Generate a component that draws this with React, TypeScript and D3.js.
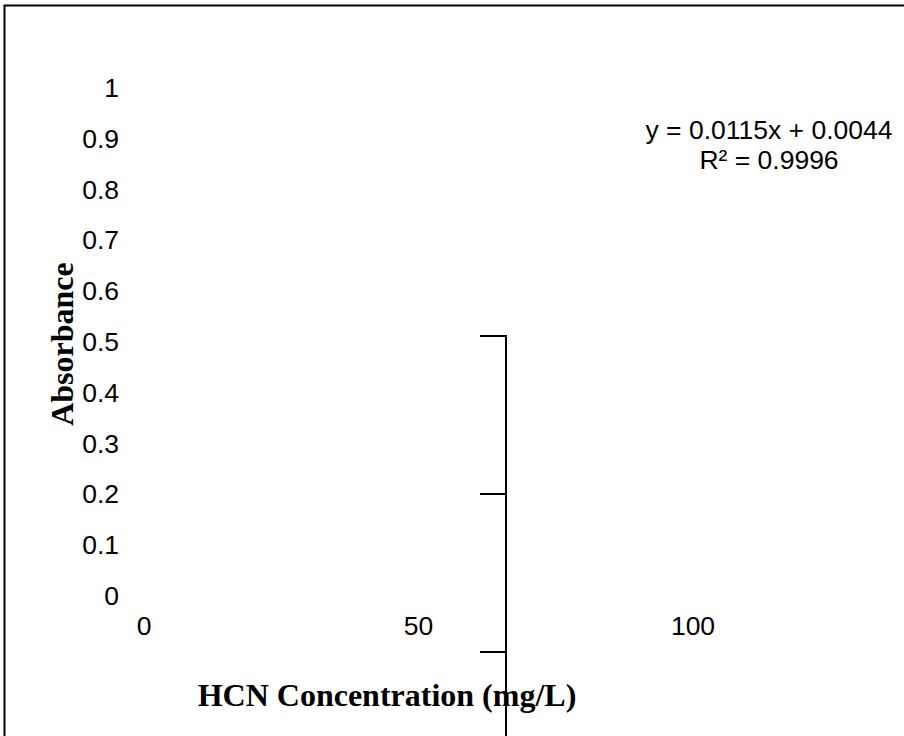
import React from "react";
import * as d3 from "d3";

const yTicks = [0, 0.1, 0.2, 0.3, 0.4, 0.5, 0.6, 0.7, 0.8, 0.9, 1];
const xTicks = [0, 50, 100];
const ghostTicks = [0, 1, 2];
const equationLines = ["y = 0.0115x + 0.0044", "R² = 0.9996"];
const xTitle = "HCN Concentration (mg/L)";
const yTitle = "Absorbance";

const W = 904;
const H = 736;

export default function App() {
  const x = d3.scaleLinear().domain([0, 100]).range([144, 693]);
  const y = d3.scaleLinear().domain([0, 1]).range([596, 88]);
  const ghost = d3.scaleLinear().domain([0, 1]).range([336, 494]);
  const sans = "'Liberation Sans', Arial, sans-serif";
  const serif = "'Liberation Serif', 'Times New Roman', serif";
  const fs = 26.5;
  return (
    <svg
      width={W}
      height={H}
      style={{ position: "absolute", left: 0, top: 0, background: "#fff" }}
    >
      <rect x={4.5} y={5.5} width={W + 20} height={H + 20} fill="#fff" stroke="#000" strokeWidth={2} />
      {yTicks.map((v) => (
        <text key={v} x={119} y={y(v)} textAnchor="end" dominantBaseline="central" fontFamily={sans} fontSize={fs} fill="#000">
          {d3.format("~g")(v)}
        </text>
      ))}
      {xTicks.map((v) => (
        <text key={v} x={x(v)} y={626} textAnchor="middle" dominantBaseline="central" fontFamily={sans} fontSize={fs} fill="#000">
          {v}
        </text>
      ))}
      <path
        d={`M${506},${ghost(0)}V${H + 10}`}
        stroke="#000"
        strokeWidth={2}
        fill="none"
      />
      {ghostTicks.map((t) => (
        <line key={t} x1={480} x2={507} y1={ghost(t)} y2={ghost(t)} stroke="#000" strokeWidth={2} />
      ))}
      {equationLines.map((s, i) => (
        <text key={s} x={769} y={130 + i * 29.5} textAnchor="middle" dominantBaseline="central" fontFamily={sans} fontSize={fs} fill="#000">
          {s}
        </text>
      ))}
      <text x={387} y={695} textAnchor="middle" dominantBaseline="central" fontFamily={serif} fontWeight="bold" fontSize={32} fill="#000">
        {xTitle}
      </text>
      <text transform={`translate(62,344) rotate(-90)`} textAnchor="middle" dominantBaseline="central" fontFamily={serif} fontWeight="bold" fontSize={32} fill="#000">
        {yTitle}
      </text>
    </svg>
  );
}
